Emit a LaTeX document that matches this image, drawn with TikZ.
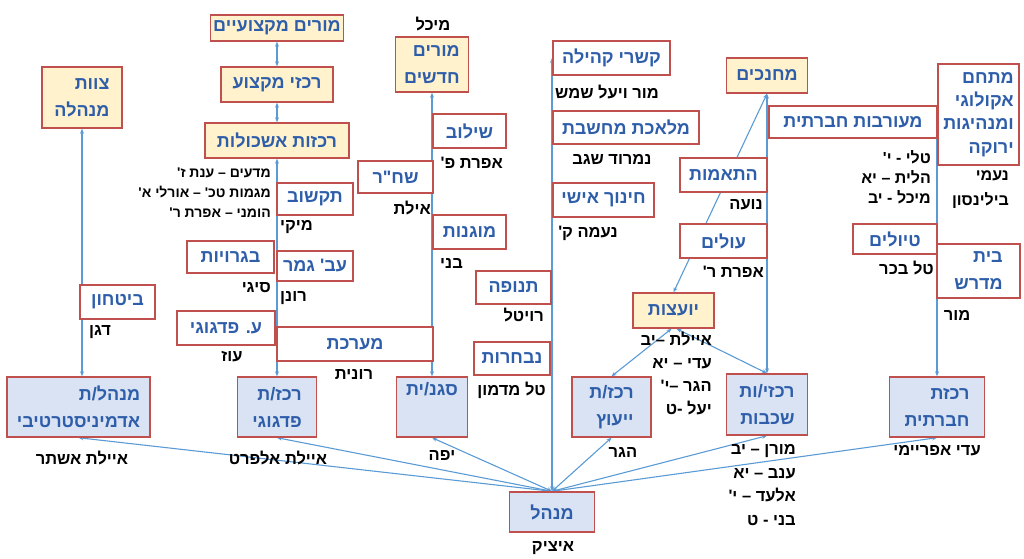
\documentclass[tikz,border=0pt]{standalone}
\usepackage{fontspec}
\usepackage{tikz}
\usetikzlibrary{arrows.meta}
\usetikzlibrary{backgrounds}
\usepackage{color}
\newfontfamily\hebfont[Script=Hebrew]{Liberation Sans}
\TeXXeTstate=1
\newcommand{\heb}[1]{\beginR #1\endR}
\definecolor{boxred}{RGB}{192,80,77}
\definecolor{labelblue}{RGB}{46,94,170}
\definecolor{lineblue}{RGB}{91,155,213}
\definecolor{unitblue}{RGB}{218,227,243}
\definecolor{unityellow}{RGB}{255,242,204}

\begin{document}
\begin{tikzpicture}[x=1pt, y=-1pt,
    unit/.style={draw=boxred, line width=1.4pt, fill=white, text=labelblue, align=right, inner sep=2pt,
                 font=\hebfont\bfseries\fontsize{18}{27}\selectfont},
    head/.style={unit, fill=unityellow},
    lead/.style={unit, fill=unitblue},
    wh/.style 2 args={minimum width=#1pt, minimum height=#2pt},
    who/.style={text=black, inner sep=0pt, font=\hebfont\bfseries\fontsize{16.5}{23}\selectfont},
    whosmall/.style={who, align=right, font=\hebfont\bfseries\fontsize{14}{20}\selectfont},
    link/.style={draw=lineblue, line width=1.1pt, >={Stealth[length=5pt,width=4pt]}, <->}]
    \useasboundingbox (0,0) rectangle (1024,558);
                % units
                \node[head, wh={80}{61}] (zevet) at (82,97.5) {\heb{צוות}\\\heb{מנהלה}};
                \node[unit, wh={75}{34}] (bitachon) at (117.5,302) {\heb{ביטחון}};
                \node[lead, wh={143}{60}] (admin) at (78.5,407) {\heb{מנהל/ת}\\\heb{אדמיניסטרטיבי}};
                \node[head, wh={133}{26}] (morimmik) at (277,28) {\heb{מורים מקצועיים}};
                \node[head, wh={112}{35}] (rakazeimik) at (277,84.5) {\heb{רכזי מקצוע}};
                \node[head, wh={144}{35}] (eshkolot) at (277,140.5) {\heb{רכזות אשכולות}};
                \node[unit, wh={76}{32}] (tikshuv) at (315,199) {\heb{תקשוב}};
                \node[unit, wh={87}{32}] (bagruyot) at (230.5,257) {\heb{בגרויות}};
                \node[unit, wh={76}{30}] (avgemer) at (315,266) {\heb{עב' גמר}};
                \node[unit, wh={98}{34}] (avped) at (226,328) {\heb{ע. פדגוגי}};
                \node[unit, wh={156}{34}] (maarechet) at (355,344) {\heb{מערכת}};
                \node[lead, wh={79}{60}] (rakped) at (277,407) {\heb{רכז/ת}\\\heb{פדגוגי}};
                \node[head, wh={73}{55}] (morimhad) at (432,64.5) {\heb{מורים}\\\heb{חדשים}};
                \node[unit, wh={73}{34}] (shiluv) at (469.5,131) {\heb{שילוב}};
                \node[unit, wh={75}{32}] (shachar) at (395.5,177) {\heb{שח"ר}};
                \node[unit, wh={73}{34}] (muganut) at (469.5,232) {\heb{מוגנות}};
                \node[unit, wh={75}{33}] (tnufa) at (513.5,287.5) {\heb{תנופה}};
                \node[unit, wh={76}{33}] (nivcharot) at (512,358.5) {\heb{נבחרות}};
                \node[lead, wh={71}{60}] (sgan) at (432,407) {\heb{סגנ/ית}\\\strut};
                \node[unit, wh={117}{34}] (kishrei) at (611.5,58) {\heb{קשרי קהילה}};
                \node[unit, wh={146}{33}] (melechet) at (626,127.5) {\heb{מלאכת מחשבת}};
                \node[unit, wh={101}{34}] (chinuch) at (603.5,200) {\heb{חינוך אישי}};
                \node[lead, wh={85}{40}] (menahel) at (552,512) {\heb{מנהל}};
                \node[head, wh={81}{35}] (mechanchim) at (767,75.5) {\heb{מחנכים}};
                \node[unit, wh={168}{32}] (meoravut) at (853,122) {\heb{מעורבות חברתית}};
                \node[unit, wh={87}{34}] (hatamot) at (723.5,175) {\heb{התאמות}};
                \node[unit, wh={87}{34}] (olim) at (723.5,241) {\heb{עולים}};
                \node[head, wh={81}{35}] (yoatzot) at (673.5,310.5) {\heb{יועצות}};
                \node[lead, wh={79}{60}] (rakyeutz) at (611.5,407) {\heb{רכז/ת}\\\heb{ייעוץ}};
                \node[lead, wh={81}{61}] (shichvot) at (767,404.5) {\heb{רכזי/ות}\\\heb{שכבות}};
                \node[unit, wh={81}{101}, font=\hebfont\bfseries\fontsize{18}{23.3}\selectfont] (mitcham) at (978.5,114.5)
                    {\heb{מתחם}\\\heb{אקולוגי}\\\heb{ומנהיגות}\\\heb{ירוקה}};
                \node[unit, wh={84}{30}] (tiyulim) at (895,239) {\heb{טיולים}};
                \node[unit, wh={83}{54}] (beitmidrash) at (978.5,271) {\heb{בית}\\\heb{מדרש}};
                \node[lead, wh={95}{60}] (rakhevrat) at (937,407) {\heb{רכזת}\\\heb{חברתית}};
                % people
                \node[who, anchor=west] (n_bitachon) at (89,332) {\heb{דגן}};
                \node[who] (n_admin) at (82,458) {\heb{איילת אשתר}};
                \node[whosmall, anchor=east] (n_eshkolot) at (271,193)
                    {\heb{מדעים – ענת ז'}\\\heb{מגמות טכ' – אורלי א'}\\\heb{הומני – אפרת ר'}};
                \node[who, anchor=west] (n_tikshuv) at (280,227) {\heb{מיקי}};
                \node[who, anchor=east] (n_bagruyot) at (271,288) {\heb{סיגי}};
                \node[who, anchor=west] (n_avgemer) at (280,298) {\heb{רונן}};
                \node[who] (n_avped) at (232,357) {\heb{עוז}};
                \node[who] (n_maarechet) at (354,374) {\heb{רונית}};
                \node[who] (n_rakped) at (278,458) {\heb{איילת אלפרט}};
                \node[who] (n_morimhad) at (433,24) {\heb{מיכל}};
                \node[who, anchor=east] (n_shiluv) at (503,163) {\heb{אפרת פ'}};
                \node[who, anchor=east] (n_shachar) at (431,208) {\heb{אילת}};
                \node[who, anchor=west] (n_muganut) at (440,263) {\heb{בני}};
                \node[who, anchor=east] (n_tnufa) at (544,315) {\heb{רויטל}};
                \node[who, anchor=east] (n_nivcharot) at (546,390) {\heb{טל מדמון}};
                \node[who] (n_sgan) at (442,455) {\heb{יפה}};
                \node[who] (n_kishrei) at (607,92) {\heb{מור ויעל שמש}};
                \node[who] (n_melechet) at (612,160) {\heb{נמרוד שגב}};
                \node[who] (n_chinuch) at (588,233) {\heb{נעמה ק'}};
                \node[who] (n_menahel) at (553,548) {\heb{איציק}};
                \node[who, anchor=east] (n_hatamot) at (763,205) {\heb{נועה}};
                \node[who, anchor=east] (n_olim) at (764,272) {\heb{אפרת ר'}};
                \node[who, anchor=east, align=right] (n_yoatzot) at (712,374)
                    {\heb{איילת –יב}\\\heb{עדי – יא}\\\heb{הגר –י'}\\\heb{יעל -ט}};
                \node[who] (n_rakyeutz) at (623,452) {\heb{הגר}};
                \node[who, anchor=east, align=right, font=\hebfont\bfseries\fontsize{16.5}{23.5}\selectfont] (n_shichvot) at (796,485)
                    {\heb{מורן – יב}\\\heb{ענב – יא}\\\heb{אלעד – י'}\\\heb{בני - ט}};
                \node[who, anchor=east, align=right, font=\hebfont\bfseries\fontsize{16}{20}\selectfont] (n_meoravut) at (931,177)
                    {\heb{טלי - י'}\\\heb{הלית – יא}\\\heb{מיכל - יב}};
                \node[who, anchor=east, align=right, font=\hebfont\bfseries\fontsize{16}{25}\selectfont] (n_mitcham) at (1009,190)
                    {\heb{נעמי}\\\heb{בילינסון}};
                \node[who, anchor=east] (n_tiyulim) at (934,268) {\heb{טל בכר}};
                \node[who] (n_beitmidrash) at (957,315) {\heb{מור}};
                \node[who] (n_rakhevrat) at (937,451) {\heb{עדי אפריימי}};
                % connectors
                \begin{scope}[on background layer]
                \draw[link] (zevet.south) -- (zevet.south |- admin.north);
                \draw[link] (morimmik) -- (rakazeimik);
                \draw[link] (rakazeimik) -- (eshkolot);
                \draw[link] (eshkolot) -- (rakped);
                \draw[link] (morimhad) -- (sgan);
                \draw[link] (mechanchim.south) -- (shichvot.north);
                \draw[link] (mechanchim.south) -- (yoatzot.north);
                \draw[link] ([xshift=-2pt]yoatzot.south) -- (rakyeutz.north);
                \draw[link] ([xshift=3pt]yoatzot.south) -- (shichvot.north);
                \draw[link] (rakhevrat.north) -- (rakhevrat.north |- meoravut.east);
                \draw[link] (menahel.north) -- (menahel.north |- kishrei.center);
                \foreach \u in {admin, rakped, sgan, rakyeutz, shichvot, rakhevrat}
                    \draw[link] (menahel.north) -- (\u.south);
                \end{scope}
            \end{tikzpicture}
\end{document}
